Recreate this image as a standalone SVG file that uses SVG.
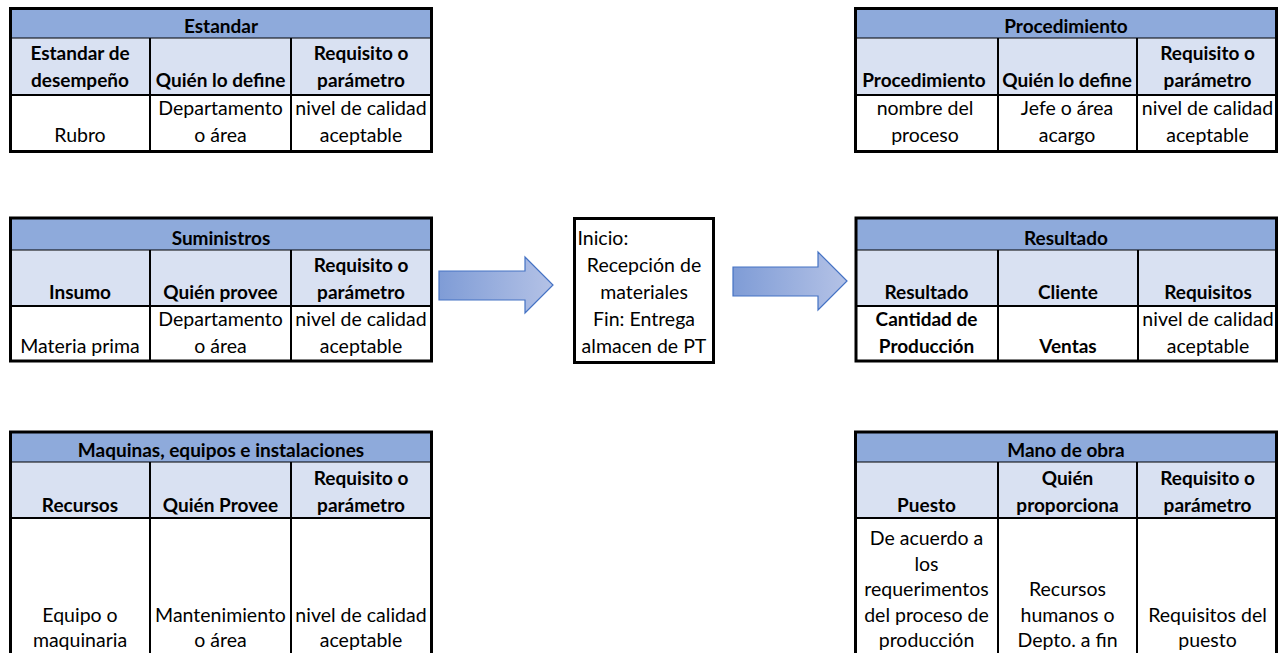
<svg xmlns="http://www.w3.org/2000/svg" width="1282" height="653" viewBox="0 0 1282 653">
  <defs>
    <style>
      .t { font-family: Lato, 'Noto Sans', sans-serif; font-size: 19.5px; fill: #000; text-anchor: middle; }
      .b { font-weight: bold; font-size: 19px; }
      .l { text-anchor: start; }
      .title { fill: #8eaadb; }
      .head { fill: #d9e1f2; }
      .body { fill: #fff; }
      .frame { fill: none; stroke: #000; stroke-width: 3; }
      .grid { stroke: #000; stroke-width: 2; fill: none; }
      .thin { stroke: #000; stroke-width: 1; fill: none; }
      .arrow { fill: url(#arrowFill); stroke: #4472c4; stroke-width: 1.2; }
    </style>
    <linearGradient id="arrowFill" x1="0" y1="0" x2="1" y2="0">
      <stop offset="0" stop-color="#7f9cd6"/>
      <stop offset="1" stop-color="#b4c2e6"/>
    </linearGradient>
  </defs>

  <rect x="0" y="0" width="1282" height="653" fill="#fff"/>

  <!-- Estandar -->
  <g id="tbl-estandar">
    <rect class="title" x="10.5" y="8.5" width="421" height="29.5"/>
    <rect class="head" x="10.5" y="38" width="421" height="57"/>
    <rect class="body" x="10.5" y="95" width="421" height="56.5"/>
    <line class="thin" x1="10.5" y1="38" x2="431.5" y2="38"/>
    <line class="grid" x1="10.5" y1="95" x2="431.5" y2="95"/>
    <line class="grid" x1="150" y1="38" x2="150" y2="151.5"/>
    <line class="grid" x1="291" y1="38" x2="291" y2="151.5"/>
    <rect class="frame" x="10.5" y="8.5" width="421" height="143"/>
    <text class="t b" x="221" y="32.5">Estandar</text>
    <text class="t b" x="80" y="59.5">Estandar de</text>
    <text class="t b" x="80" y="86.5">desempeño</text>
    <text class="t b" x="220.5" y="86.5">Quién lo define</text>
    <text class="t b" x="361" y="59.5">Requisito o</text>
    <text class="t b" x="361" y="86.5">parámetro</text>
    <text class="t" x="80" y="141.5">Rubro</text>
    <text class="t" x="220.5" y="114.5">Departamento</text>
    <text class="t" x="220.5" y="141.5">o área</text>
    <text class="t" x="361" y="114.5">nivel de calidad</text>
    <text class="t" x="361" y="141.5">aceptable</text>
  </g>

  <!-- Procedimiento -->
  <g id="tbl-procedimiento">
    <rect class="title" x="855.5" y="8.5" width="421" height="29.5"/>
    <rect class="head" x="855.5" y="38" width="421" height="57"/>
    <rect class="body" x="855.5" y="95" width="421" height="56.5"/>
    <line class="thin" x1="855.5" y1="38" x2="1276.5" y2="38"/>
    <line class="grid" x1="855.5" y1="95" x2="1276.5" y2="95"/>
    <line class="grid" x1="998" y1="38" x2="998" y2="151.5"/>
    <line class="grid" x1="1137" y1="38" x2="1137" y2="151.5"/>
    <rect class="frame" x="855.5" y="8.5" width="421" height="143"/>
    <text class="t b" x="1066" y="32.5">Procedimiento</text>
    <text class="t b" x="924" y="86.5">Procedimiento</text>
    <text class="t b" x="1067" y="86.5">Quién lo define</text>
    <text class="t b" x="1207.5" y="59.5">Requisito o</text>
    <text class="t b" x="1207.5" y="86.5">parámetro</text>
    <text class="t" x="925" y="114.5">nombre del</text>
    <text class="t" x="925" y="141.5">proceso</text>
    <text class="t" x="1067" y="114.5">Jefe o área</text>
    <text class="t" x="1067" y="141.5">acargo</text>
    <text class="t" x="1207.5" y="114.5">nivel de calidad</text>
    <text class="t" x="1207.5" y="141.5">aceptable</text>
  </g>

  <!-- Suministros -->
  <g id="tbl-suministros">
    <rect class="title" x="10.5" y="218" width="421" height="32"/>
    <rect class="head" x="10.5" y="250" width="421" height="56"/>
    <rect class="body" x="10.5" y="306" width="421" height="55"/>
    <line class="thin" x1="10.5" y1="250" x2="431.5" y2="250"/>
    <line class="grid" x1="10.5" y1="306" x2="431.5" y2="306"/>
    <line class="grid" x1="150" y1="250" x2="150" y2="361"/>
    <line class="grid" x1="291" y1="250" x2="291" y2="361"/>
    <rect class="frame" x="10.5" y="218" width="421" height="143"/>
    <text class="t b" x="221" y="244.5">Suministros</text>
    <text class="t b" x="80" y="298.5">Insumo</text>
    <text class="t b" x="220.5" y="298.5">Quién provee</text>
    <text class="t b" x="361" y="271.5">Requisito o</text>
    <text class="t b" x="361" y="298.5">parámetro</text>
    <text class="t" x="80" y="352.5">Materia prima</text>
    <text class="t" x="220.5" y="325.5">Departamento</text>
    <text class="t" x="220.5" y="352.5">o área</text>
    <text class="t" x="361" y="325.5">nivel de calidad</text>
    <text class="t" x="361" y="352.5">aceptable</text>
  </g>

  <!-- Proceso -->
  <g id="box-proceso">
    <rect class="body" x="574.5" y="218.5" width="139" height="144"/>
    <rect class="frame" x="574.5" y="218.5" width="139" height="144"/>
    <text class="t l" x="577.5" y="244.5">Inicio:</text>
    <text class="t" x="644" y="271.5">Recepción de</text>
    <text class="t" x="644" y="298.5">materiales</text>
    <text class="t" x="644" y="325.5">Fin: Entrega</text>
    <text class="t" x="644" y="352.5">almacen de PT</text>
  </g>

  <!-- Resultado -->
  <g id="tbl-resultado">
    <rect class="title" x="856" y="218" width="420.5" height="32"/>
    <rect class="head" x="856" y="250" width="420.5" height="56"/>
    <rect class="body" x="856" y="306" width="420.5" height="55"/>
    <line class="thin" x1="856" y1="250" x2="1276.5" y2="250"/>
    <line class="grid" x1="856" y1="306" x2="1276.5" y2="306"/>
    <line class="grid" x1="998" y1="250" x2="998" y2="361"/>
    <line class="grid" x1="1138" y1="250" x2="1138" y2="361"/>
    <rect class="frame" x="856" y="218" width="420.5" height="143"/>
    <text class="t b" x="1066" y="244.5">Resultado</text>
    <text class="t b" x="926.5" y="298.5">Resultado</text>
    <text class="t b" x="1068" y="298.5">Cliente</text>
    <text class="t b" x="1208" y="298.5">Requisitos</text>
    <text class="t b" x="926.5" y="325.5">Cantidad de</text>
    <text class="t b" x="926.5" y="352.5">Producción</text>
    <text class="t b" x="1068" y="352.5">Ventas</text>
    <text class="t" x="1208" y="325.5">nivel de calidad</text>
    <text class="t" x="1208" y="352.5">aceptable</text>
  </g>

  <!-- Maquinas, equipos e instalaciones -->
  <g id="tbl-maquinas">
    <rect class="title" x="10.5" y="432" width="421" height="30"/>
    <rect class="head" x="10.5" y="462" width="421" height="56"/>
    <rect class="body" x="10.5" y="518" width="421" height="152"/>
    <line class="thin" x1="10.5" y1="462" x2="431.5" y2="462"/>
    <line class="grid" x1="10.5" y1="518" x2="431.5" y2="518"/>
    <line class="grid" x1="150" y1="462" x2="150" y2="670"/>
    <line class="grid" x1="291" y1="462" x2="291" y2="670"/>
    <rect class="frame" x="10.5" y="432" width="421" height="238"/>
    <text class="t b" x="221" y="456.5">Maquinas, equipos e instalaciones</text>
    <text class="t b" x="80" y="511.5">Recursos</text>
    <text class="t b" x="220.5" y="511.5">Quién Provee</text>
    <text class="t b" x="361" y="484.5">Requisito o</text>
    <text class="t b" x="361" y="511.5">parámetro</text>
    <text class="t" x="80" y="621.5">Equipo o</text>
    <text class="t" x="80" y="647">maquinaria</text>
    <text class="t" x="220.5" y="621.5">Mantenimiento</text>
    <text class="t" x="220.5" y="647">o área</text>
    <text class="t" x="361" y="621.5">nivel de calidad</text>
    <text class="t" x="361" y="647">aceptable</text>
  </g>

  <!-- Mano de obra -->
  <g id="tbl-mano-obra">
    <rect class="title" x="855.5" y="432" width="421" height="30"/>
    <rect class="head" x="855.5" y="462" width="421" height="56"/>
    <rect class="body" x="855.5" y="518" width="421" height="152"/>
    <line class="thin" x1="855.5" y1="462" x2="1276.5" y2="462"/>
    <line class="grid" x1="855.5" y1="518" x2="1276.5" y2="518"/>
    <line class="grid" x1="998" y1="462" x2="998" y2="670"/>
    <line class="grid" x1="1137" y1="462" x2="1137" y2="670"/>
    <rect class="frame" x="855.5" y="432" width="421" height="238"/>
    <text class="t b" x="1066" y="456.5">Mano de obra</text>
    <text class="t b" x="926.5" y="511.5">Puesto</text>
    <text class="t b" x="1067.5" y="484.5">Quién</text>
    <text class="t b" x="1067.5" y="511.5">proporciona</text>
    <text class="t b" x="1207.5" y="484.5">Requisito o</text>
    <text class="t b" x="1207.5" y="511.5">parámetro</text>
    <text class="t" x="926.5" y="545">De acuerdo a</text>
    <text class="t" x="926.5" y="570.5">los</text>
    <text class="t" x="926.5" y="596">requerimentos</text>
    <text class="t" x="926.5" y="621.5">del proceso de</text>
    <text class="t" x="926.5" y="647">producción</text>
    <text class="t" x="1067.5" y="596">Recursos</text>
    <text class="t" x="1067.5" y="621.5">humanos o</text>
    <text class="t" x="1067.5" y="647">Depto. a fin</text>
    <text class="t" x="1207.5" y="621.5">Requisitos del</text>
    <text class="t" x="1207.5" y="647">puesto</text>
  </g>

  <!-- Flow arrows -->
  <g id="connectors">
    <polygon class="arrow" points="439,271 525,271 525,257 553,285 525,313 525,300 439,300"/>
    <polygon class="arrow" points="733,267 818,267 818,252 847,281 818,310 818,296 733,296"/>
  </g>
</svg>
